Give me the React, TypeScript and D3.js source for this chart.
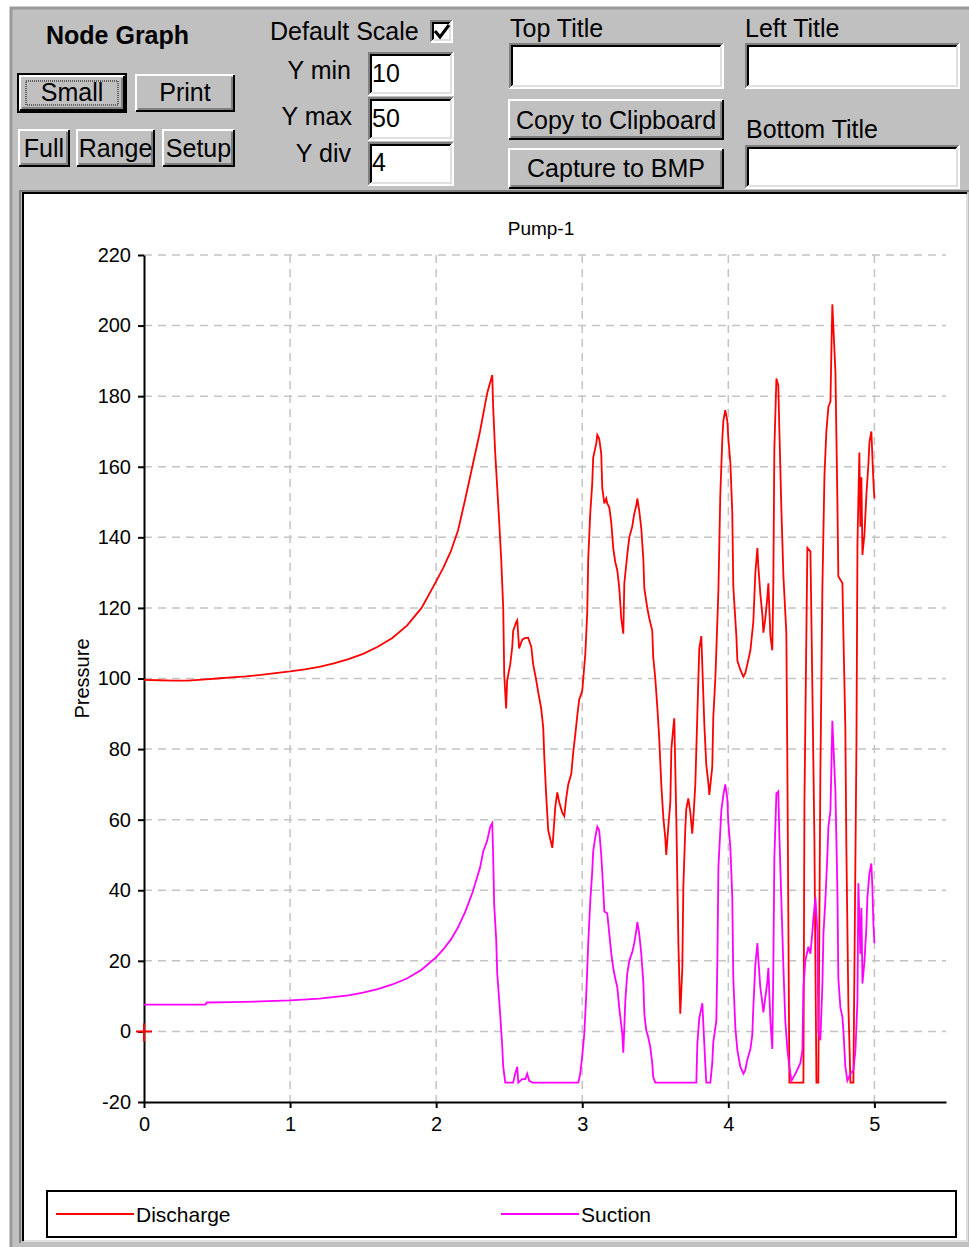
import * as d3 from 'd3';
import { useEffect, useRef } from 'react';

// Discharge trace: time (s) and pressure
const dischargeTime = [
  0, 0.1, 0.2, 0.3, 0.4, 0.5, 0.6, 0.7, 0.8, 0.9, 1.0, 1.1, 1.2, 1.3, 1.4, 1.5, 1.6, 1.7, 1.8, 1.9,
  2.0, 2.05, 2.1, 2.15, 2.2, 2.25, 2.3, 2.35, 2.384, 2.39, 2.404, 2.418, 2.432, 2.445, 2.459, 2.466,
  2.479, 2.486, 2.507, 2.521, 2.527, 2.548, 2.555, 2.568, 2.589, 2.61, 2.63, 2.651, 2.664, 2.685,
  2.699, 2.719, 2.733, 2.74, 2.753, 2.767, 2.795, 2.801, 2.815, 2.829, 2.842, 2.863, 2.877, 2.89,
  2.904, 2.925, 2.938, 2.952, 2.966, 2.979, 3.0, 3.007, 3.021, 3.034, 3.041, 3.055, 3.068, 3.075,
  3.096, 3.103, 3.116, 3.13, 3.137, 3.151, 3.164, 3.171, 3.185, 3.199, 3.212, 3.226, 3.24, 3.253,
  3.267, 3.281, 3.288, 3.308, 3.322, 3.342, 3.356, 3.37, 3.377, 3.39, 3.404, 3.418, 3.425, 3.445,
  3.459, 3.479, 3.486, 3.5, 3.514, 3.527, 3.541, 3.555, 3.568, 3.575, 3.589, 3.603, 3.61, 3.623,
  3.63, 3.644, 3.658, 3.671, 3.685, 3.692, 3.705, 3.712, 3.726, 3.74, 3.753, 3.76, 3.774, 3.788,
  3.801, 3.815, 3.822, 3.836, 3.849, 3.863, 3.87, 3.89, 3.897, 3.911, 3.918, 3.932, 3.945, 3.959,
  3.966, 3.979, 3.993, 4.0, 4.014, 4.027, 4.034, 4.055, 4.062, 4.082, 4.103, 4.116, 4.13, 4.151,
  4.171, 4.185, 4.199, 4.205, 4.219, 4.233, 4.24, 4.253, 4.267, 4.274, 4.288, 4.301, 4.308, 4.315,
  4.329, 4.342, 4.349, 4.363, 4.377, 4.397, 4.404, 4.418, 4.514, 4.521, 4.534, 4.541, 4.562, 4.575,
  4.589, 4.603, 4.616, 4.63, 4.644, 4.658, 4.671, 4.685, 4.699, 4.705, 4.712, 4.733, 4.747, 4.753,
  4.781, 4.788, 4.801, 4.808, 4.822, 4.836, 4.856, 4.863, 4.877, 4.884, 4.897, 4.904, 4.911, 4.918,
  4.932, 4.945, 4.959, 4.966, 4.979, 4.986, 4.993, 5.0,
];
const dischargePressure = [
  99.6, 99.5, 99.4, 99.4, 99.7, 100, 100.3, 100.6, 101, 101.5, 102, 102.6, 103.3, 104.3, 105.5, 107, 109, 111.5, 115, 120,
  127.5, 131.5, 136, 142, 151, 160.5, 170, 181, 186, 177, 164, 154, 144, 134, 120, 101,
  91.5, 99.5, 104, 109, 113.5, 116, 116.5, 108.5, 111, 111.5, 111.5, 109, 104, 99.5,
  96, 91.5, 86, 78, 67, 57, 52, 55, 63.5, 67.7, 65, 62, 61, 66,
  70, 73, 79, 84, 89.5, 94, 96.5, 100, 107, 118.5, 134, 147, 155, 162.6,
  166.6, 169, 168, 163.7, 154, 149.6, 151, 149.6, 148.5, 144, 137, 133, 130.6, 125.8,
  117, 112.7, 127, 135, 140, 143, 146.7, 149, 151, 147.6, 142.5, 134, 125.5, 120,
  117, 113.6, 106, 100, 91.8, 83, 70, 60.6, 55, 50, 58, 65, 80, 86,
  88.7, 60, 25, 5, 18, 41, 57, 63, 66, 62, 56, 60, 70, 90,
  108.5, 112, 103.5, 86.7, 75.6, 70.5, 67, 75, 89, 100, 108, 125, 152, 168,
  173, 176, 173, 168, 161, 147, 126, 112, 105, 102.5, 100.5, 101.5, 104, 108,
  116, 130, 137, 132, 124, 118, 113, 117, 123, 127, 112, 108, 127, 165,
  185, 183, 171, 148, 129, 113, 76, -14.5, -14.5, 65, 112, 137, 136, 98,
  55, -14.5, -14.5, 73, 126, 157.5, 170, 177, 178.5, 192, 206, 187, 149, 129,
  127, 112, 86, 52, 7, -14.5, -14.5, 17, 81.5, 138.5, 164, 143, 157, 135,
  141, 152, 161, 167, 170, 163, 156, 151,
];

// Suction trace
const suctionTime = [
  0, 0.2, 0.42, 0.43, 0.6, 0.8, 1.0, 1.2, 1.4, 1.5, 1.6, 1.7, 1.8, 1.9, 2.0, 2.05, 2.1, 2.15, 2.2,
  2.25, 2.301, 2.322, 2.349, 2.37, 2.384, 2.39, 2.397, 2.411, 2.418, 2.438, 2.452, 2.459, 2.473,
  2.527, 2.541, 2.555, 2.562, 2.589, 2.61, 2.623, 2.637, 2.658, 2.973, 2.986, 3.0, 3.014, 3.027,
  3.041, 3.055, 3.068, 3.075, 3.089, 3.103, 3.116, 3.13, 3.144, 3.151, 3.171, 3.185, 3.199, 3.212,
  3.226, 3.24, 3.253, 3.274, 3.281, 3.295, 3.308, 3.322, 3.342, 3.356, 3.37, 3.377, 3.39, 3.404,
  3.418, 3.425, 3.438, 3.452, 3.466, 3.479, 3.486, 3.5, 3.781, 3.788, 3.801, 3.822, 3.829, 3.842,
  3.849, 3.877, 3.89, 3.897, 3.918, 3.925, 3.932, 3.952, 3.966, 3.979, 3.993, 4.0, 4.014, 4.027,
  4.034, 4.048, 4.062, 4.082, 4.103, 4.116, 4.13, 4.151, 4.164, 4.171, 4.185, 4.199, 4.205, 4.219,
  4.233, 4.24, 4.253, 4.267, 4.274, 4.288, 4.301, 4.308, 4.315, 4.329, 4.342, 4.349, 4.363, 4.377,
  4.39, 4.404, 4.418, 4.432, 4.459, 4.493, 4.507, 4.514, 4.527, 4.548, 4.562, 4.575, 4.582, 4.596,
  4.61, 4.616, 4.63, 4.644, 4.651, 4.664, 4.678, 4.685, 4.699, 4.705, 4.712, 4.733, 4.747, 4.753,
  4.767, 4.781, 4.788, 4.801, 4.815, 4.836, 4.856, 4.87, 4.884, 4.89, 4.904, 4.911, 4.918, 4.932,
  4.945, 4.952, 4.966, 4.979, 4.986, 4.993, 5.0,
];
const suctionPressure = [
  7.6, 7.6, 7.6, 8.2, 8.3, 8.5, 8.8, 9.3, 10.2, 11, 12, 13.3, 15, 17.5, 21, 23.3, 26, 29.5, 34,
  39.5, 46.5, 51, 54, 58, 59, 50, 36, 26, 16.4, 5, -4, -10, -14.5,
  -14.5, -12, -10, -14.5, -13.5, -13.5, -12, -14, -14.5, -14.5, -12, -7, -0.6, 10,
  25, 37, 45, 51, 55, 58, 57, 50, 40, 34, 33.5, 27.7, 22, 18,
  15, 12.5, 6.8, -0.6, -6, 8.8, 16.4, 20, 22.4, 25, 28.6, 31, 27.7, 22,
  14, 5, 0.3, -1.7, -4.5, -9, -13, -14.5, -14.5, -3.4, 3.7, 8, 2, -9,
  -14.5, -14.5, -9, -3, 3, 20, 46.5, 62.6, 67, 70, 66, 59, 52, 38,
  15, 1, -5.4, -10, -12, -11, -8, -5, -1, 6.8, 19, 25, 20.7, 12.5,
  8, 5.4, 9.6, 14, 18, 3, -5, 18, 49, 67.4, 68, 56, 37, 18,
  3, -5, -10, -14, -12, -9, -5.4, 12.5, 20, 24, 22, 28, 32, 38,
  28, 0, -2.5, 13.6, 27.7, 37, 50, 58, 62.6, 74, 88, 68, 39, 15,
  6.8, 4, 0, -10, -14, -12, -11, -5.4, 8.8, 42, 22, 35, 13.6, 20,
  29.5, 38, 44.8, 47.6, 40.8, 30.6, 25,
];

const yTicks = [-20, 0, 20, 40, 60, 80, 100, 120, 140, 160, 180, 200, 220];
const xTicks = [0, 1, 2, 3, 4, 5];
const seriesNames = ['Discharge', 'Suction'];
const seriesColors = ['#ff0000', '#ff00ff'];

const FONT = '"Liberation Sans", Arial, sans-serif';
const FACE = '#c0c0c0';

// raised win95 style button
function Button({ x, y, w, h, label, baseline, isDefault = false }) {
  return (
    <g>
      {isDefault && (
        <rect x={x - 1} y={y - 1} width={w + 2} height={h + 2} fill="none" stroke="#000" strokeWidth={2} />
      )}
      <rect x={x} y={y} width={w} height={h} fill={FACE} />
      <path d={`M${x + 1},${y + h - 1}V${y + 1}H${x + w - 1}`} fill="none" stroke="#fff" strokeWidth={2} />
      <path d={`M${x + w - 1},${y + 1}V${y + h - 1}H${x + 1}`} fill="none" stroke="#000" strokeWidth={2} />
      <path d={`M${x + w - 3},${y + 3}V${y + h - 3}H${x + 3}`} fill="none" stroke="#808080" strokeWidth={2} />
      {isDefault && (
        <rect x={x + 7} y={y + 6} width={w - 14} height={h - 12} fill="none" stroke="#000" strokeWidth={1} strokeDasharray="1 1" />
      )}
      <text x={x + w / 2} y={baseline} textAnchor="middle" fontSize={25} fontFamily={FONT} fill="#000">
        {label}
      </text>
    </g>
  );
}

// sunken white edit box
function Field({ x, y, w, h, value = '', baseline = 0 }) {
  return (
    <g>
      <rect x={x} y={y} width={w} height={h} fill="#fff" />
      <path d={`M${x + 1},${y + h - 1}V${y + 1}H${x + w - 1}`} fill="none" stroke="#808080" strokeWidth={2} />
      <path d={`M${x + 3},${y + h - 3}V${y + 3}H${x + w - 3}`} fill="none" stroke="#000" strokeWidth={2} />
      <path d={`M${x + w - 1},${y + 1}V${y + h - 1}H${x + 1}`} fill="none" stroke="#fff" strokeWidth={2} />
      <path d={`M${x + w - 3},${y + 3}V${y + h - 3}H${x + 3}`} fill="none" stroke="#dfdfdf" strokeWidth={2} />
      {value && (
        <text x={x + 4} y={baseline} fontSize={25} fontFamily={FONT} fill="#000">
          {value}
        </text>
      )}
    </g>
  );
}

function Label({ x, y, text, anchor = 'start', bold = false }) {
  return (
    <text x={x} y={y} textAnchor={anchor} fontSize={25} fontWeight={bold ? 'bold' : 'normal'} fontFamily={FONT} fill="#000">
      {text}
    </text>
  );
}

export default function App() {
  const chartRef = useRef<SVGGElement>(null);

  const width = 969;
  const height = 1247;
  const plot = { left: 144, right: 946, top: 255, bottom: 1102 };

  useEffect(() => {
    const g = d3.select(chartRef.current);
    g.selectAll('*').remove();

    const x = d3.scaleLinear().domain([0, 5.49]).range([plot.left, plot.right]);
    const y = d3.scaleLinear().domain([-20, 220]).range([plot.bottom, plot.top]);

    // dashed grid
    g.append('g')
      .selectAll('line')
      .data(yTicks.slice(1))
      .join('line')
      .attr('x1', plot.left)
      .attr('x2', plot.right)
      .attr('y1', (d) => y(d))
      .attr('y2', (d) => y(d))
      .attr('stroke', '#c4c4c4')
      .attr('stroke-width', 1.5)
      .attr('stroke-dasharray', '8 6');
    g.append('g')
      .selectAll('line')
      .data(xTicks.slice(1))
      .join('line')
      .attr('x1', (d) => x(d))
      .attr('x2', (d) => x(d))
      .attr('y1', plot.top)
      .attr('y2', plot.bottom)
      .attr('stroke', '#c4c4c4')
      .attr('stroke-width', 1.5)
      .attr('stroke-dasharray', '8 6');

    // axes (plain hyphen minus and integer labels)
    const plain = (d) => String(d);
    const yAxis = d3.axisLeft(y).tickValues(yTicks).tickFormat(plain).tickSize(6).tickSizeOuter(0).tickPadding(7);
    const xAxis = d3.axisBottom(x).tickValues(xTicks).tickFormat(plain).tickSize(6).tickSizeOuter(0).tickPadding(9);
    const yG = g.append('g').attr('transform', `translate(${plot.left},0)`).call(yAxis);
    const xG = g.append('g').attr('transform', `translate(0,${plot.bottom})`).call(xAxis);
    [yG, xG].forEach((ax) => {
      ax.attr('font-size', 20).attr('font-family', FONT);
      ax.select('.domain').attr('stroke', '#000').attr('stroke-width', 2);
      ax.selectAll('.tick line').attr('stroke', '#000').attr('stroke-width', 2);
      ax.selectAll('.tick text').attr('fill', '#000');
    });

    // traces
    const traces = [
      { time: dischargeTime, values: dischargePressure },
      { time: suctionTime, values: suctionPressure },
    ];
    traces.forEach((s, k) => {
      const line = d3
        .line<number>()
        .x((d, i) => x(s.time[i]))
        .y((d) => y(d));
      g.append('path')
        .attr('d', line(s.values))
        .attr('fill', 'none')
        .attr('stroke', seriesColors[k])
        .attr('stroke-width', 1.8)
        .attr('stroke-linejoin', 'miter');
    });

    // red origin marker
    g.append('path')
      .attr('d', `M${x(0) - 8},${y(0)}h16M${x(0)},${y(0) - 8}v18`)
      .attr('stroke', '#ff0000')
      .attr('stroke-width', 2);

    // titles
    g.append('text')
      .text('Pump-1')
      .attr('x', 541)
      .attr('y', 235)
      .attr('text-anchor', 'middle')
      .attr('font-size', 19)
      .attr('font-family', FONT);
    g.append('text')
      .text('Pressure')
      .attr('transform', `translate(89,${(plot.top + plot.bottom) / 2}) rotate(-90)`)
      .attr('text-anchor', 'middle')
      .attr('font-size', 20)
      .attr('font-family', FONT);

    // legend
    const legend = g.append('g');
    legend
      .append('rect')
      .attr('x', 47)
      .attr('y', 1191)
      .attr('width', 909)
      .attr('height', 46)
      .attr('fill', '#fff')
      .attr('stroke', '#000')
      .attr('stroke-width', 2);
    const legendX = [56, 501];
    seriesNames.forEach((name, k) => {
      legend
        .append('line')
        .attr('x1', legendX[k])
        .attr('x2', legendX[k] + 78)
        .attr('y1', 1214)
        .attr('y2', 1214)
        .attr('stroke', seriesColors[k])
        .attr('stroke-width', 2);
      legend
        .append('text')
        .text(name)
        .attr('x', legendX[k] + 80)
        .attr('y', 1222)
        .attr('font-size', 21)
        .attr('font-family', FONT);
    });
  }, []);

  return (
    <svg
      width={width}
      height={height}
      style={{ position: 'absolute', left: 0, top: 0, background: '#fff' }}
    >
      {/* window frame */}
      <rect x={10} y={7} width={width - 10} height={height - 7} fill={FACE} />
      <path d={`M11,${height}V8H${width}`} fill="none" stroke="#9a9a9a" strokeWidth={3} />

      {/* toolbar */}
      <Label x={46} y={44} text="Node Graph" bold />
      <Button x={19} y={75} w={106} h={36} label="Small" baseline={101} isDefault />
      <Button x={135} y={74} w={100} h={38} label="Print" baseline={101} />
      <Button x={18} y={129} w={52} h={38} label="Full" baseline={157} />
      <Button x={76} y={129} w={79} h={38} label="Range" baseline={157} />
      <Button x={162} y={129} w={73} h={38} label="Setup" baseline={157} />

      <Label x={270} y={40} text="Default Scale" />
      <Field x={430} y={20} w={23} h={23} />
      <path d="M435,31l5,6l9,-12" fill="none" stroke="#000" strokeWidth={3} />
      <Label x={351} y={79} text="Y min" anchor="end" />
      <Label x={352} y={125} text="Y max" anchor="end" />
      <Label x={351} y={162} text="Y div" anchor="end" />
      <Field x={368} y={52} w={86} h={44} value="10" baseline={82} />
      <Field x={368} y={97} w={86} h={44} value="50" baseline={127} />
      <Field x={368} y={142} w={86} h={44} value="4" baseline={171} />

      <Label x={510} y={37} text="Top Title" />
      <Field x={509} y={43} w={215} h={46} />
      <Button x={508} y={99} w={216} h={41} label="Copy to Clipboard" baseline={129} />
      <Button x={508} y={148} w={216} h={41} label="Capture to BMP" baseline={177} />
      <Label x={745} y={37} text="Left Title" />
      <Field x={745} y={43} w={215} h={46} />
      <Label x={746} y={138} text="Bottom Title" />
      <Field x={745} y={145} w={215} h={44} />

      {/* chart area */}
      <rect x={24} y={194} width={943} height={1047} fill="#fff" />
      <path d={`M23,1241V193H967`} fill="none" stroke="#000" strokeWidth={2} />
      <path d={`M20,1243V191H969`} fill="none" stroke="#808080" strokeWidth={2} />
      <path d={`M967,194V1241H24`} fill="none" stroke="#dfdfdf" strokeWidth={2} />
      <g ref={chartRef} />
    </svg>
  );
}
